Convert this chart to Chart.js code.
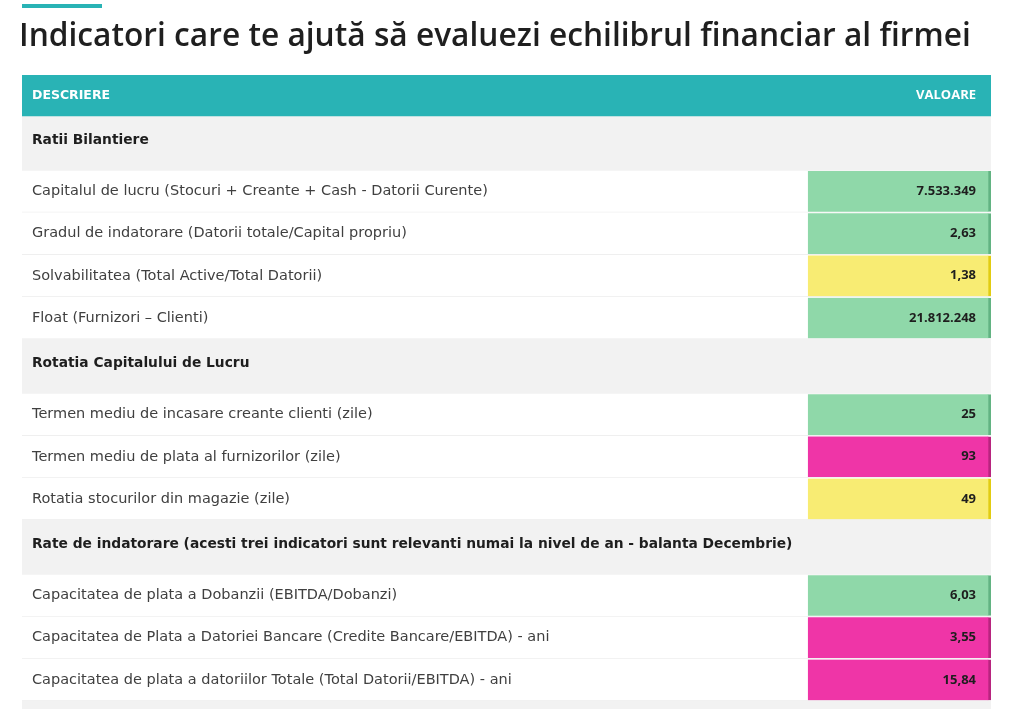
<!DOCTYPE html>
<html>
<head>
<meta charset="utf-8">
<script src="https://cdn.jsdelivr.net/npm/chart.js@4"></script>
<style>
  html, body { margin: 0; padding: 0; background: #fff; }
  #wrap { width: 1018px; height: 720px; position: relative; }
</style>
</head>
<body>
<div id="wrap"><canvas id="tableChart"></canvas></div>
<script>
const titleText = 'Indicatori care te ajută să evaluezi echilibrul financiar al firmei';
const headerLabels = ['DESCRIERE', 'VALOARE'];

const rowLabels = [
    'Ratii Bilantiere',
    'Capitalul de lucru (Stocuri + Creante + Cash - Datorii Curente)',
    'Gradul de indatorare (Datorii totale/Capital propriu)',
    'Solvabilitatea (Total Active/Total Datorii)',
    'Float (Furnizori – Clienti)',
    'Rotatia Capitalului de Lucru',
    'Termen mediu de incasare creante clienti (zile)',
    'Termen mediu de plata al furnizorilor (zile)',
    'Rotatia stocurilor din magazie (zile)',
    'Rate de indatorare (acesti trei indicatori sunt relevanti numai la nivel de an - balanta Decembrie)',
    'Capacitatea de plata a Dobanzii (EBITDA/Dobanzi)',
    'Capacitatea de Plata a Datoriei Bancare (Credite Bancare/EBITDA) - ani',
    'Capacitatea de plata a datoriilor Totale (Total Datorii/EBITDA) - ani'
];
const rowKinds = ['section', 'row', 'row', 'row', 'row', 'section', 'row', 'row', 'row', 'section', 'row', 'row', 'row'];
const rowValues = [null, 7533349, 2.63, 1.38, 21812248, null, 25, 93, 49, null, 6.03, 3.55, 15.84];
const rowStatus = [null, 'good', 'good', 'warn', 'good', null, 'good', 'bad', 'warn', null, 'good', 'bad', 'bad'];

// row heights in "row units"
const kindHeight = { header: 0.97, section: 1.29, row: 1, footer: 0.19 };
const COL_SPLIT = 81.1; // start of the VALOARE column, % of table width

const teal = '#29b3b5';
const statusFill = { good: '#8fd8a9', warn: '#f8ec73', bad: '#ef35a7' };
const statusEdge = { good: '#62b382', warn: '#e2cc12', bad: '#b8247f' };

function fmt(v) {
    if (v === null || v === undefined) return '';
    if (Number.isInteger(v)) return String(v).replace(/\B(?=(\d{3})+(?!\d))/g, '.');
    return v.toFixed(2).replace('.', ',');
}

// stack the lines of the table
const lines = [{ kind: 'header' }]
    .concat(rowKinds.map((k, i) => ({ kind: k, i: i })))
    .concat([{ kind: 'footer' }]);
let pos = 0;
lines.forEach(l => {
    l.top = pos;
    pos += kindHeight[l.kind];
    l.center = (l.top + pos) / 2;
});
const total = pos;
const rowLines = lines.filter(l => l.i !== undefined);

function thickness(h, minus) {
    return function(ctx) {
        const s = ctx.chart.scales.y;
        const v = Math.abs(s.getPixelForValue(h) - s.getPixelForValue(0)) - (minus || 0);
        return isFinite(v) && v > 0 ? v : 1;
    };
}

const valueCells = rowLines.filter(l => rowStatus[l.i]);
const leftTicks = [lines[0]].concat(rowLines);
const rightTicks = [lines[0]].concat(valueCells);
// section labels sit a little above the middle of their band
const labelPos = l => l.kind === 'section' ? l.center - 0.07 : l.center;

const titlePlugin = {
    id: 'pageTitle',
    afterDraw(chart) {
        const c = chart.ctx;
        c.save();
        c.fillStyle = teal;
        c.fillRect(22, 4, 80, 4);
        c.fillStyle = '#1f1f1f';
        c.font = '600 31.7px "Open Sans"';
        c.textBaseline = 'middle';
        c.fillText(titleText, 19, 37);
        c.restore();
    }
};

function leftFont(ctx) {
    const t = leftTicks[ctx.index];
    if (ctx.index === 0) return { family: 'DejaVu Sans', size: 12.5, weight: 'bold' };
    if (t && t.kind === 'section') return { family: 'DejaVu Sans', size: 13.8, weight: 'bold' };
    return { family: 'DejaVu Sans', size: 14.5, weight: 'normal' };
}
function leftColor(ctx) {
    const t = leftTicks[ctx.index];
    if (ctx.index === 0) return '#ffffff';
    return t && t.kind === 'section' ? '#1e1e1e' : '#404040';
}
function flatAxis(axis) {
    axis.width = 0;
    axis.paddingTop = 0;
    axis.paddingBottom = 0;
}

new Chart(document.getElementById('tableChart'), {
    type: 'bar',
    data: {
        datasets: [{
            data: valueCells.map(l => ({ y: l.center, x: [COL_SPLIT, 100] })),
            backgroundColor: valueCells.map(l => statusFill[rowStatus[l.i]]),
            borderColor: valueCells.map(l => statusEdge[rowStatus[l.i]]),
            borderWidth: { right: 3, left: 0, top: 0, bottom: 0 },
            borderSkipped: false,
            barThickness: thickness(kindHeight.row, 1.5),
            grouped: false
        }, {
            data: [{ y: lines[0].center, x: [0, 100] }],
            backgroundColor: teal,
            borderWidth: 0,
            barThickness: thickness(kindHeight.header),
            grouped: false
        }, {
            data: lines.filter(l => l.kind === 'section').map(l => ({ y: l.center, x: [0, 100] })),
            backgroundColor: '#f2f2f2',
            borderWidth: 0,
            barThickness: thickness(kindHeight.section),
            grouped: false
        }, {
            data: lines.filter(l => l.kind === 'footer').map(l => ({ y: l.center, x: [0, 100] })),
            backgroundColor: '#f2f2f2',
            borderWidth: 0,
            barThickness: thickness(kindHeight.footer),
            grouped: false
        }, {
            data: lines.filter(l => l.kind === 'row').map(l => ({ y: l.center, x: [0, 100] })),
            backgroundColor: '#ffffff',
            borderColor: '#ececec',
            borderWidth: { bottom: 1, top: 0, left: 0, right: 0 },
            borderSkipped: false,
            barThickness: thickness(kindHeight.row),
            grouped: false
        }]
    },
    options: {
        indexAxis: 'y',
        responsive: true,
        maintainAspectRatio: false,
        animation: false,
        layout: { padding: { top: 75, left: 22, right: 27, bottom: 11 } },
        plugins: {
            legend: { display: false },
            tooltip: { enabled: false },
            title: { display: false }
        },
        scales: {
            x: { type: 'linear', display: false, min: 0, max: 100 },
            y: {
                type: 'linear',
                reverse: true,
                offset: false,
                bounds: 'data',
                min: 0,
                max: total,
                position: 'left',
                grid: { display: false, drawTicks: false, offset: false },
                border: { display: false },
                afterBuildTicks: axis => { axis.ticks = leftTicks.map(l => ({ value: labelPos(l) })); },
                afterFit: flatAxis,
                ticks: {
                    mirror: true,
                    padding: 10,
                    z: 1,
                    autoSkip: false,
                    callback: (v, i) => {
                        const t = leftTicks[i];
                        if (!t) return '';
                        return i === 0 ? headerLabels[0] : rowLabels[t.i];
                    },
                    color: leftColor,
                    font: leftFont
                }
            },
            y2: {
                type: 'linear',
                reverse: true,
                offset: false,
                bounds: 'data',
                min: 0,
                max: total,
                position: 'right',
                grid: { display: false, drawTicks: false, offset: false },
                border: { display: false },
                afterBuildTicks: axis => { axis.ticks = rightTicks.map(l => ({ value: l.center })); },
                afterFit: flatAxis,
                ticks: {
                    mirror: true,
                    padding: -15,
                    z: 1,
                    autoSkip: false,
                    callback: (v, i) => {
                        const t = rightTicks[i];
                        if (!t) return '';
                        return i === 0 ? headerLabels[1] : fmt(rowValues[t.i]);
                    },
                    color: ctx => ctx.index === 0 ? '#ffffff' : '#1e1e1e',
                    font: { family: 'Open Sans', size: 13, weight: 'bold' }
                }
            }
        }
    },
    plugins: [titlePlugin]
});
</script>
</body>
</html>
